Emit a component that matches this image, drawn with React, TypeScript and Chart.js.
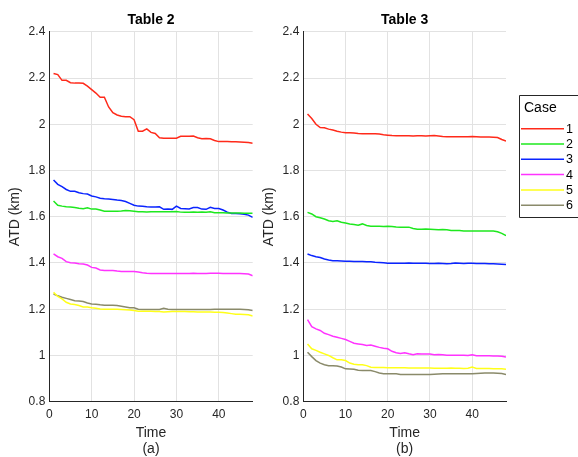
import React, { useEffect, useRef } from 'react';
import { Chart, registerables } from 'chart.js';

Chart.register(...registerables);

const time = [1, 2, 3, 4, 5, 6, 7, 8, 9, 10, 11, 12, 13, 14, 15, 16, 17, 18, 19, 20, 21, 22, 23, 24,
  25, 26, 27, 28, 29, 30, 31, 32, 33, 34, 35, 36, 37, 38, 39, 40, 41, 42, 43, 44, 45, 46, 47, 48];
const xTicks = [0, 10, 20, 30, 40];
const yTicks = [0.8, 1, 1.2, 1.4, 1.6, 1.8, 2, 2.2, 2.4];
const caseNames = ['1', '2', '3', '4', '5', '6'];
const caseColors = ['#ff2a1a', '#1ee81e', '#0a24ff', '#ff33ff', '#ffff1a', '#8a8a6a'];

// Table 2
const t2c1 = [2.22, 2.215, 2.19, 2.19, 2.18, 2.178, 2.178, 2.177, 2.165, 2.15, 2.135, 2.117, 2.117, 2.075, 2.05, 2.04,
  2.035, 2.033, 2.033, 2.02, 1.97, 1.97, 1.98, 1.965, 1.96, 1.942, 1.94, 1.94, 1.94, 1.94, 1.948, 1.948,
  1.948, 1.949, 1.942, 1.937, 1.938, 1.937, 1.93, 1.925, 1.925, 1.925, 1.924, 1.924, 1.923, 1.922, 1.921, 1.918];
const t2c2 = [1.668, 1.65, 1.646, 1.643, 1.642, 1.64, 1.637, 1.635, 1.639, 1.633, 1.633, 1.629, 1.624, 1.624, 1.624, 1.624,
  1.625, 1.627, 1.626, 1.624, 1.622, 1.622, 1.621, 1.622, 1.622, 1.622, 1.622, 1.622, 1.622, 1.623, 1.62, 1.619,
  1.62, 1.621, 1.62, 1.621, 1.619, 1.622, 1.617, 1.617, 1.617, 1.616, 1.616, 1.616, 1.616, 1.615, 1.615, 1.615];
const t2c3 = [1.759, 1.74, 1.73, 1.718, 1.71, 1.71, 1.704, 1.7, 1.698, 1.69, 1.686, 1.68, 1.678, 1.677, 1.675, 1.672,
  1.67, 1.666, 1.658, 1.65, 1.646, 1.645, 1.643, 1.642, 1.642, 1.643, 1.632, 1.634, 1.632, 1.646, 1.636, 1.635,
  1.634, 1.64, 1.64, 1.633, 1.632, 1.641, 1.636, 1.636, 1.629, 1.62, 1.614, 1.614, 1.613, 1.611, 1.607, 1.597];
const t2c4 = [1.439, 1.427, 1.42, 1.406, 1.401, 1.4, 1.397, 1.396, 1.391, 1.381, 1.378, 1.37, 1.368, 1.368, 1.368, 1.365,
  1.363, 1.363, 1.363, 1.363, 1.361, 1.358, 1.356, 1.355, 1.355, 1.355, 1.355, 1.355, 1.355, 1.355, 1.355, 1.355,
  1.355, 1.356, 1.355, 1.354, 1.355, 1.356, 1.356, 1.356, 1.355, 1.355, 1.355, 1.354, 1.354, 1.353, 1.352, 1.345];
const t2c5 = [1.273, 1.255, 1.245, 1.23, 1.223, 1.22, 1.216, 1.21, 1.21, 1.206, 1.204, 1.201, 1.2, 1.2, 1.2, 1.2,
  1.199, 1.198, 1.197, 1.194, 1.191, 1.191, 1.191, 1.191, 1.19, 1.19, 1.188, 1.189, 1.19, 1.19, 1.19, 1.19,
  1.189, 1.189, 1.188, 1.188, 1.188, 1.188, 1.187, 1.187, 1.186, 1.184, 1.181, 1.178, 1.178, 1.177, 1.176, 1.171];
const t2c6 = [1.266, 1.258, 1.252, 1.247, 1.242, 1.237, 1.236, 1.233, 1.227, 1.223, 1.222, 1.219, 1.217, 1.217, 1.217, 1.216,
  1.213, 1.21, 1.206, 1.206, 1.2, 1.199, 1.199, 1.199, 1.199, 1.199, 1.204, 1.2, 1.199, 1.199, 1.199, 1.199,
  1.199, 1.199, 1.199, 1.199, 1.199, 1.199, 1.2, 1.2, 1.2, 1.2, 1.2, 1.2, 1.2, 1.199, 1.198, 1.194];

// Table 3
const t3c1 = [2.044, 2.025, 2.0, 1.986, 1.985, 1.979, 1.975, 1.97, 1.966, 1.963, 1.963, 1.962, 1.96, 1.959, 1.959, 1.959,
  1.959, 1.958, 1.955, 1.953, 1.951, 1.95, 1.95, 1.95, 1.95, 1.949, 1.95, 1.95, 1.949, 1.95, 1.951, 1.949,
  1.947, 1.946, 1.946, 1.946, 1.946, 1.946, 1.946, 1.947, 1.946, 1.945, 1.945, 1.945, 1.944, 1.943, 1.934, 1.927];
const t3c2 = [1.619, 1.612, 1.6, 1.596, 1.59, 1.583, 1.58, 1.583, 1.576, 1.573, 1.569, 1.566, 1.563, 1.569, 1.562, 1.559,
  1.559, 1.559, 1.558, 1.559, 1.558, 1.556, 1.555, 1.555, 1.555, 1.549, 1.546, 1.546, 1.547, 1.546, 1.545, 1.544,
  1.545, 1.544, 1.541, 1.541, 1.541, 1.538, 1.538, 1.538, 1.538, 1.538, 1.538, 1.538, 1.538, 1.535, 1.528, 1.518];
const t3c3 = [1.439, 1.432, 1.427, 1.424, 1.417, 1.413, 1.41, 1.41, 1.409, 1.407, 1.407, 1.406, 1.406, 1.406, 1.405, 1.405,
  1.403, 1.402, 1.401, 1.399, 1.399, 1.399, 1.399, 1.399, 1.4, 1.399, 1.399, 1.399, 1.399, 1.398, 1.398, 1.399,
  1.398, 1.397, 1.398, 1.4, 1.399, 1.398, 1.399, 1.399, 1.398, 1.398, 1.398, 1.397, 1.397, 1.396, 1.395, 1.393];
const t3c4 = [1.155, 1.125, 1.115, 1.108, 1.096, 1.09, 1.083, 1.079, 1.074, 1.069, 1.061, 1.053, 1.05, 1.047, 1.043, 1.045,
  1.04, 1.035, 1.031, 1.029, 1.018, 1.012, 1.009, 1.012, 1.007, 1.003, 1.007, 1.006, 1.006, 1.006, 1.003, 1.004,
  1.003, 1.001, 1.001, 1.001, 1.001, 1.001, 1.0, 1.003, 0.999, 0.999, 0.999, 0.999, 0.998, 0.998, 0.997, 0.993];
const t3c5 = [1.05, 1.029, 1.022, 1.014, 1.007, 1.0, 0.99, 0.981, 0.981, 0.978, 0.967, 0.962, 0.96, 0.96, 0.956, 0.949,
  0.948, 0.948, 0.948, 0.947, 0.947, 0.947, 0.947, 0.947, 0.946, 0.946, 0.946, 0.946, 0.946, 0.946, 0.945, 0.945,
  0.945, 0.945, 0.946, 0.945, 0.945, 0.944, 0.945, 0.95, 0.944, 0.944, 0.944, 0.944, 0.943, 0.943, 0.942, 0.94];
const t3c6 = [1.014, 0.995, 0.978, 0.967, 0.96, 0.956, 0.956, 0.954, 0.95, 0.942, 0.941, 0.94, 0.936, 0.935, 0.935, 0.935,
  0.93, 0.924, 0.921, 0.921, 0.921, 0.921, 0.918, 0.918, 0.918, 0.918, 0.918, 0.918, 0.918, 0.918, 0.919, 0.92,
  0.921, 0.921, 0.921, 0.921, 0.921, 0.921, 0.921, 0.921, 0.922, 0.923, 0.924, 0.924, 0.924, 0.923, 0.922, 0.918];

const table2 = [t2c1, t2c2, t2c3, t2c4, t2c5, t2c6];
const table3 = [t3c1, t3c2, t3c3, t3c4, t3c5, t3c6];

const FONT = '"Liberation Sans", Arial, Helvetica, sans-serif';
const TXT = '#262626';

const legendPlugin = {
  id: 'caseLegend',
  afterDraw(chart: any) {
    const ctx = chart.ctx;
    const bx = 265.5, by = 95.5, bb = 217.5;
    const br = chart.width + 20;
    ctx.save();
    ctx.fillStyle = '#ffffff';
    ctx.fillRect(bx, by, br - bx, bb - by);
    ctx.strokeStyle = TXT;
    ctx.lineWidth = 1;
    ctx.beginPath();
    ctx.moveTo(br, by);
    ctx.lineTo(bx, by);
    ctx.lineTo(bx, bb);
    ctx.lineTo(br, bb);
    ctx.stroke();
    ctx.fillStyle = '#000';
    ctx.textBaseline = 'middle';
    ctx.textAlign = 'left';
    ctx.font = '14px ' + FONT;
    ctx.fillText('Case', 270, 108.5);
    ctx.font = '12.5px ' + FONT;
    chart.data.datasets.forEach((ds: any, i: number) => {
      const y = 128.7 + i * 15.3;
      ctx.strokeStyle = ds.borderColor;
      ctx.lineWidth = 1.5;
      ctx.beginPath();
      ctx.moveTo(267, y);
      ctx.lineTo(310, y);
      ctx.stroke();
      ctx.fillStyle = '#000';
      ctx.fillText(ds.label, 312, y + 0.5);
    });
    ctx.restore();
  },
};

function Panel(props: { left: number; width: number; title: string; sub: string; series: number[][]; rightPad: number; legend: boolean }) {
  const ref = useRef<HTMLCanvasElement>(null);
  useEffect(() => {
    if (!ref.current) return;
    const chart = new Chart(ref.current, {
      type: 'line',
      data: {
        datasets: props.series.map((vals, i) => ({
          label: caseNames[i],
          data: vals.map((v, j) => ({ x: time[j], y: v })),
          borderColor: caseColors[i],
          backgroundColor: caseColors[i],
          borderWidth: 1.5,
          pointRadius: 0,
          fill: false,
          tension: 0,
        })),
      },
      options: {
        responsive: false,
        animation: false,
        devicePixelRatio: 1,
        layout: { padding: { left: 0, right: props.rightPad, top: 0, bottom: 0 } },
        plugins: {
          legend: { display: false },
          tooltip: { enabled: false },
          title: {
            display: true,
            text: props.title,
            fullSize: false,
            color: '#000',
            font: { family: FONT, size: 14, weight: 'bold', lineHeight: 1.2 },
            padding: { top: 12, bottom: 3 },
          },
        },
        scales: {
          x: {
            type: 'linear',
            min: 0,
            max: 48,
            afterBuildTicks: (s: any) => { s.ticks = xTicks.map((v) => ({ value: v })); },
            afterFit: (s: any) => { s.height = 55.3; },
            ticks: {
              color: TXT,
              font: { family: FONT, size: 12 },
              padding: 6,
              maxRotation: 0,
              autoSkip: false,
              callback: (v: any) => String(v),
            },
            grid: { color: '#e2e2e2', drawTicks: false, lineWidth: 1 },
            border: { color: TXT, width: 1 },
            title: {
              display: true,
              text: ['Time', props.sub],
              color: TXT,
              font: { family: FONT, size: 14, lineHeight: 1.15 },
              padding: { top: 1, bottom: 0 },
            },
          },
          y: {
            min: 0.8,
            max: 2.4,
            afterBuildTicks: (s: any) => { s.ticks = yTicks.map((v) => ({ value: v })); },
            afterFit: (s: any) => { s.width = 49.3; },
            ticks: {
              color: TXT,
              font: { family: FONT, size: 12 },
              padding: 4,
              autoSkip: false,
              callback: (v: any) => String(Math.round(v * 10) / 10),
            },
            grid: { color: '#e2e2e2', drawTicks: false, lineWidth: 1 },
            border: { color: TXT, width: 1 },
            title: {
              display: true,
              text: 'ATD (km)',
              color: TXT,
              font: { family: FONT, size: 14 },
              padding: { top: 7, bottom: 0 },
            },
          },
        },
      } as any,
      plugins: props.legend ? [legendPlugin] : [],
    });
    return () => chart.destroy();
  }, []);
  return (
    <canvas
      ref={ref}
      width={props.width}
      height={457}
      style={{ position: 'absolute', left: props.left, top: 0, width: props.width, height: 457 }}
    />
  );
}

export default function App() {
  return (
    <div style={{ position: 'fixed', left: 0, top: 0, width: 578, height: 457, background: '#fff', overflow: 'hidden' }}>
      <Panel left={0} width={255} title="Table 2" sub="(a)" series={table2} rightPad={2.3} legend={false} />
      <Panel left={254} width={324} title="Table 3" sub="(b)" series={table3} rightPad={72} legend={true} />
    </div>
  );
}
